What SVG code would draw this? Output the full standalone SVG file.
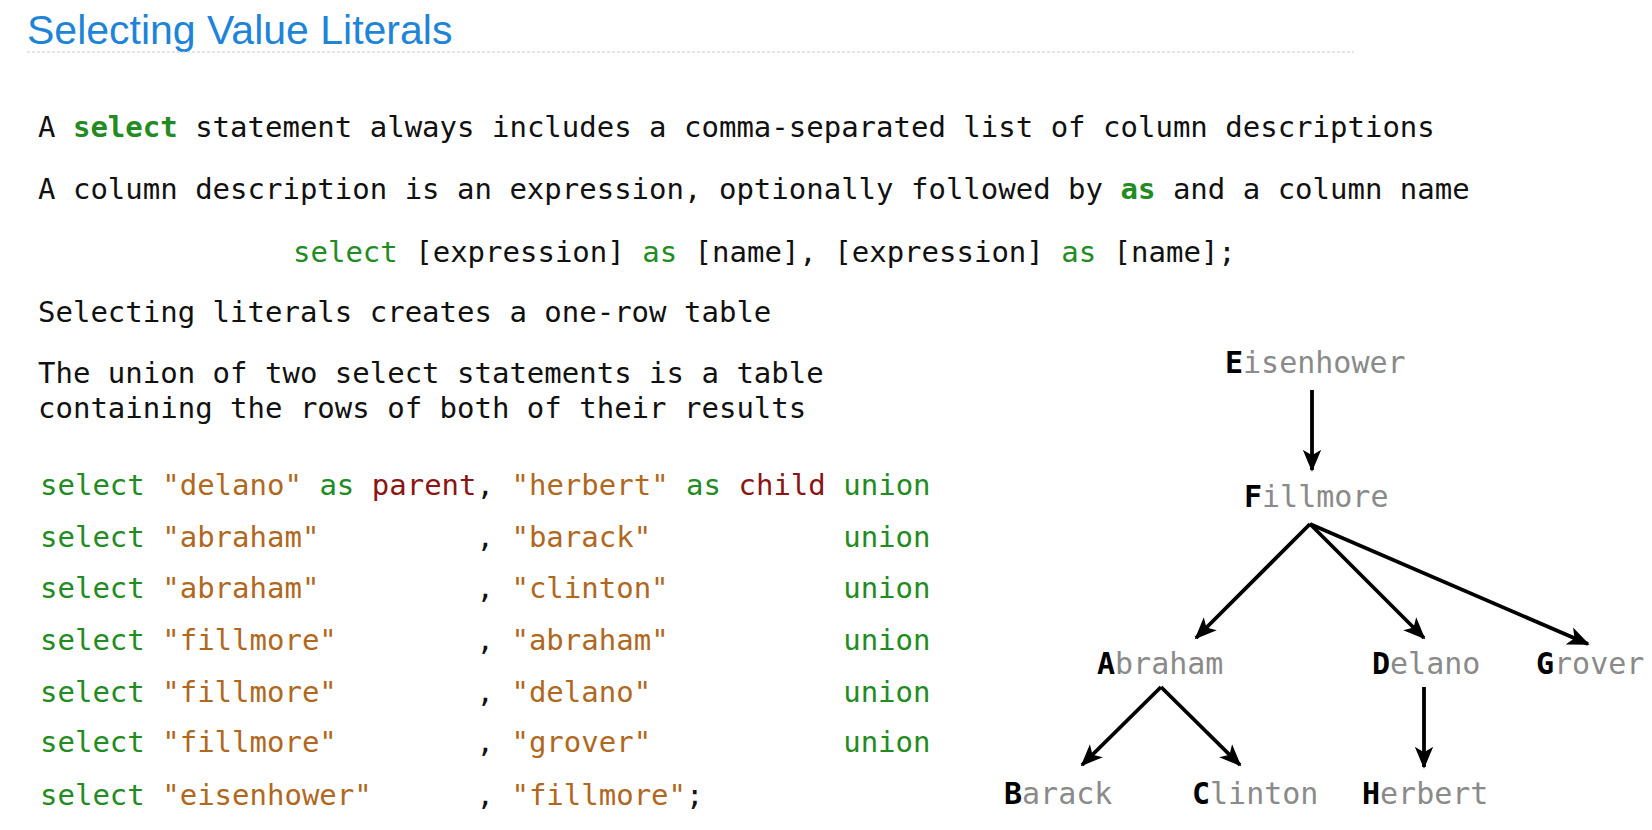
<svg xmlns="http://www.w3.org/2000/svg" width="1652" height="830" viewBox="0 0 1652 830">
<style>
.title{font-family:"Liberation Sans",Arial,sans-serif;font-size:41px;fill:#1e84d8}
.m{font-family:"DejaVu Sans Mono",monospace;font-size:29px;fill:#111}
.kw{fill:#228b22}
.kwb{fill:#228b22;font-weight:bold}
.str{fill:#b0681e}
.id{fill:#8b1414}
.lbl{font-family:"DejaVu Sans Mono",monospace;font-size:30px;fill:#8a8a8a}
.ini{fill:#000;font-weight:bold}
.edge{stroke:#000;stroke-width:3.8;fill:none;marker-end:url(#ah)}
</style>
<defs>
<marker id="ah" viewBox="0 0 12 10" refX="11" refY="5" markerWidth="5.8" markerHeight="5.2" markerUnits="strokeWidth" orient="auto">
<path d="M0,0 L12,5 L0,10 L3,5 z" fill="#000"/>
</marker>
</defs>
<rect width="1652" height="830" fill="#fff"/>
<text class="title" x="27" y="44">Selecting Value Literals</text>
<line x1="27" y1="52" x2="1354" y2="52" stroke="#cccccc" stroke-width="1.2" stroke-dasharray="3,2"/>

<g id="text">
<text class="m" x="38" y="137">A <tspan class="kwb">select</tspan> statement always includes a comma-separated list of column descriptions</text>
<text class="m" x="38" y="199">A column description is an expression, optionally followed by <tspan class="kwb">as</tspan> and a column name</text>
<text class="m" x="293" y="262"><tspan class="kw">select</tspan> [expression] <tspan class="kw">as</tspan> [name], [expression] <tspan class="kw">as</tspan> [name];</text>
<text class="m" x="38" y="322">Selecting literals creates a one-row table</text>
<text class="m" x="38" y="383">The union of two select statements is a table</text>
<text class="m" x="38" y="418">containing the rows of both of their results</text>
</g>

<g id="code">
<text class="m" x="40" y="495" xml:space="preserve"><tspan class="kw">select</tspan> <tspan class="str">"delano"</tspan> <tspan class="kw">as</tspan> <tspan class="id">parent</tspan>, <tspan class="str">"herbert"</tspan> <tspan class="kw">as</tspan> <tspan class="id">child</tspan> <tspan class="kw">union</tspan></text>
<text class="m" x="40" y="547" xml:space="preserve"><tspan class="kw">select</tspan> <tspan class="str">"abraham"</tspan>         , <tspan class="str">"barack"</tspan>           <tspan class="kw">union</tspan></text>
<text class="m" x="40" y="598" xml:space="preserve"><tspan class="kw">select</tspan> <tspan class="str">"abraham"</tspan>         , <tspan class="str">"clinton"</tspan>          <tspan class="kw">union</tspan></text>
<text class="m" x="40" y="650" xml:space="preserve"><tspan class="kw">select</tspan> <tspan class="str">"fillmore"</tspan>        , <tspan class="str">"abraham"</tspan>          <tspan class="kw">union</tspan></text>
<text class="m" x="40" y="702" xml:space="preserve"><tspan class="kw">select</tspan> <tspan class="str">"fillmore"</tspan>        , <tspan class="str">"delano"</tspan>           <tspan class="kw">union</tspan></text>
<text class="m" x="40" y="752" xml:space="preserve"><tspan class="kw">select</tspan> <tspan class="str">"fillmore"</tspan>        , <tspan class="str">"grover"</tspan>           <tspan class="kw">union</tspan></text>
<text class="m" x="40" y="805" xml:space="preserve"><tspan class="kw">select</tspan> <tspan class="str">"eisenhower"</tspan>      , <tspan class="str">"fillmore"</tspan>;</text>
</g>

<g id="connectors">
<line class="edge" x1="1312" y1="390" x2="1312" y2="470"/>
<line class="edge" x1="1310" y1="524" x2="1196" y2="638"/>
<line class="edge" x1="1310" y1="524" x2="1424" y2="638"/>
<line class="edge" x1="1310" y1="524" x2="1588" y2="644"/>
<line class="edge" x1="1161" y1="687" x2="1082" y2="765"/>
<line class="edge" x1="1161" y1="687" x2="1240" y2="765"/>
<line class="edge" x1="1424" y1="687" x2="1424" y2="767"/>
</g>

<g id="eisenhower"><text class="lbl" x="1225" y="373"><tspan class="ini">E</tspan>isenhower</text></g>
<g id="fillmore"><text class="lbl" x="1244" y="507"><tspan class="ini">F</tspan>illmore</text></g>
<g id="abraham"><text class="lbl" x="1097" y="674"><tspan class="ini">A</tspan>braham</text></g>
<g id="delano"><text class="lbl" x="1372" y="674"><tspan class="ini">D</tspan>elano</text></g>
<g id="grover"><text class="lbl" x="1536" y="674"><tspan class="ini">G</tspan>rover</text></g>
<g id="barack"><text class="lbl" x="1004" y="804"><tspan class="ini">B</tspan>arack</text></g>
<g id="clinton"><text class="lbl" x="1192" y="804"><tspan class="ini">C</tspan>linton</text></g>
<g id="herbert"><text class="lbl" x="1362" y="804"><tspan class="ini">H</tspan>erbert</text></g>
</svg>
